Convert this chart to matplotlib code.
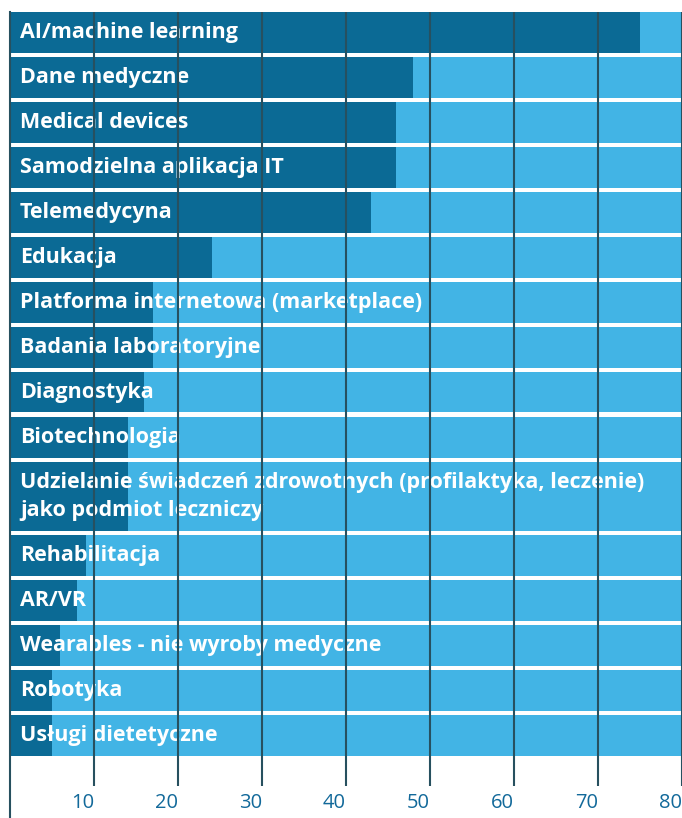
import matplotlib.pyplot as plt
from matplotlib import font_manager

categories = [
    'AI/machine learning',
    'Dane medyczne',
    'Medical devices',
    'Samodzielna aplikacja IT',
    'Telemedycyna',
    'Edukacja',
    'Platforma internetowa (marketplace)',
    'Badania laboratoryjne',
    'Diagnostyka',
    'Biotechnologia',
    'Udzielanie świadczeń zdrowotnych (profilaktyka, leczenie)\njako podmiot leczniczy',
    'Rehabilitacja',
    'AR/VR',
    'Wearables - nie wyroby medyczne',
    'Robotyka',
    'Usługi dietetyczne',
]
values = [75, 48, 46, 46, 43, 24, 17, 17, 16, 14, 14, 9, 8, 6, 5, 5]
ticks = [10, 20, 30, 40, 50, 60, 70, 80]
x_max = 80

DARK = '#0b6a95'
LIGHT = '#42b4e5'
GRID = '#27505f'
TICK = '#12699a'

# pick a narrow bold font if there is one
names = {f.name for f in font_manager.fontManager.ttflist}
font = 'Liberation Sans Narrow' if 'Liberation Sans Narrow' in names else 'Open Sans'

fig = plt.figure(figsize=(6.82, 8.18), dpi=100)
ax = fig.add_axes([10 / 682, 32 / 818, 672 / 682, 774 / 818])

# row layout: two-line labels get a taller bar
y = 0.0
for cat, val in zip(categories, values):
    n = cat.count('\n') + 1
    h = 0.9 + 0.627 * (n - 1)
    ax.barh(y + h / 2, x_max, height=h, color=LIGHT, zorder=1)
    ax.barh(y + h / 2, val, height=h, color=DARK, zorder=2)
    ax.annotate(cat, xy=(0, y + h / 2), xytext=(10, 0), textcoords='offset pixels',
                ha='left', va='center', color='white', fontsize=15.5,
                fontweight='bold', family=font, linespacing=1.4, zorder=3)
    y += h + 0.1

ax.set_xlim(0, x_max)
ax.set_ylim(17.2, 0)

for t in ticks:
    ax.axvline(t, 0, 1, color=GRID, lw=1.5, zorder=4)
ax.axvline(0, -0.05, 1, color=GRID, lw=1.5, zorder=4, clip_on=False)

for s in ax.spines.values():
    s.set_visible(False)
ax.set_yticks([])
ax.set_xticks(ticks)
ax.set_xticklabels([str(t) for t in ticks], ha='right', color=TICK,
                   fontsize=14.5, family='Open Sans')
ax.tick_params(axis='x', length=0, pad=5)

plt.savefig('out.png', dpi=100)
